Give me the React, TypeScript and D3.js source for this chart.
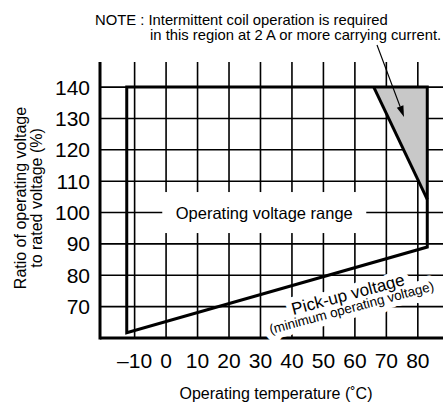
import React from "react";
import * as d3 from "d3";

const W = 448;
const H = 405;
const FONT = "'Liberation Sans', Arial, Helvetica, sans-serif";

// axis values
const xTickValues = [-10, 0, 10, 20, 30, 40, 50, 60, 70, 80];
const yTickValues = [70, 80, 90, 100, 110, 120, 130, 140];
const xDomain = [-21, 88];
const yDomain = [60, 148];

// operating voltage range outline (temperature, % rated voltage)
const rangeTemps = [-12.5, 83, 83, -12.5];
const rangeVolts = [140, 140, 89, 61.7];

// intermittent operation region (shaded)
const limitTemps = [66, 83, 83];
const limitVolts = [140, 140, 104.2];

// texts
const noteLines = [
  "NOTE : Intermittent coil operation is required",
  "in this region at 2 A or more carrying current.",
];
const yTitleLines = ["Ratio of operating voltage", "to rated voltage (%)"];
const xTitle = "Operating temperature (˚C)";
const rangeLabel = "Operating voltage range";
const pickupLines = ["Pick-up voltage", "(minimum operating voltage)"];

// label anchors in data space
const rangeLabelAt = [31.2, 100];
const pickupLabelAt = [58.8, 70.2];
const arrowTipAt = [75.6, 130.5];

export default function App() {
  const x = d3.scaleLinear().domain(xDomain).range([100, 443]);
  const y = d3.scaleLinear().domain(yDomain).range([338, 62]);
  const fmt = (d: number) => (d < 0 ? "–" + Math.abs(d) : String(d));

  const rangePts = rangeTemps.map((t, i) => [x(t), y(rangeVolts[i])] as [number, number]);
  const limitPts = limitTemps.map((t, i) => [x(t), y(limitVolts[i])] as [number, number]);
  const line = d3.line();

  const [x0, x1] = x.range();
  const [y0, y1] = y.range();

  // arrow
  const ax0 = 377, ay0 = 45;
  const ax1 = x(arrowTipAt[0]), ay1 = y(arrowTipAt[1]);
  const ang = Math.atan2(ay1 - ay0, ax1 - ax0);
  const hl = 11, hw = 3.5;
  const bx = ax1 - hl * Math.cos(ang), by = ay1 - hl * Math.sin(ang);
  const head = [
    [ax1, ay1],
    [bx + hw * Math.sin(ang), by - hw * Math.cos(ang)],
    [bx - hw * Math.sin(ang), by + hw * Math.cos(ang)],
  ];

  const rlx = x(rangeLabelAt[0]);
  const rly = y(rangeLabelAt[1]);
  const plx = x(pickupLabelAt[0]);
  const ply = y(pickupLabelAt[1]);

  const pickupText = (halo: boolean) => (
    <g transform={`translate(${plx},${ply}) rotate(-15)`}>
      <text
        x={0}
        y={-6.3}
        textAnchor="middle"
        fontSize={17}
        fill={halo ? "white" : "black"}
        stroke={halo ? "white" : "none"}
        strokeWidth={halo ? 12 : 0}
        strokeLinejoin="round"
      >
        {pickupLines[0]}
      </text>
      <text
        x={0}
        y={6.3}
        textAnchor="middle"
        fontSize={13.4}
        fill={halo ? "white" : "black"}
        stroke={halo ? "white" : "none"}
        strokeWidth={halo ? 12 : 0}
        strokeLinejoin="round"
      >
        {pickupLines[1]}
      </text>
    </g>
  );

  return (
    <svg
      width={W}
      height={H}
      style={{ position: "absolute", left: 0, top: 0, background: "white" }}
      fontFamily={FONT}
    >
      <rect x={0} y={0} width={W} height={H} fill="white" />
      {/* grid */}
      {xTickValues.map((v) => (
        <line key={"gx" + v} x1={x(v)} x2={x(v)} y1={y1} y2={y0} stroke="black" strokeWidth={1.6} />
      ))}
      {yTickValues.map((v) => (
        <line key={"gy" + v} x1={x0} x2={x1} y1={y(v)} y2={y(v)} stroke="black" strokeWidth={1.6} />
      ))}
      {/* axes */}
      <line x1={x0} x2={x0} y1={y1} y2={y0 + 1.5} stroke="black" strokeWidth={3} />
      <line x1={x0} x2={x1} y1={y0} y2={y0} stroke="black" strokeWidth={3} />

      {/* label backgrounds */}
      <rect x={rlx - 102} y={rly - 20.5} width={204} height={41} fill="white" />
      {pickupText(true)}

      {/* shaded region */}
      <path d={line(limitPts as any) + "Z"} fill="#c8c8c8" stroke="none" />
      {/* operating range */}
      <path
        d={line(rangePts as any) + "Z"}
        fill="none"
        stroke="black"
        strokeWidth={3}
        strokeLinejoin="miter"
      />
      <line
        x1={limitPts[0][0]}
        y1={limitPts[0][1]}
        x2={limitPts[2][0]}
        y2={limitPts[2][1]}
        stroke="black"
        strokeWidth={3}
      />

      {/* tick labels */}
      {yTickValues.map((v) => (
        <text key={"ly" + v} x={x0 - 10} y={y(v)} dy="0.36em" textAnchor="end" fontSize={21}>
          {v}
        </text>
      ))}
      {xTickValues.map((v) => (
        <text key={"lx" + v} x={x(v)} y={368} textAnchor="middle" fontSize={21}>
          {fmt(v)}
        </text>
      ))}

      {/* titles */}
      <text x={276} y={399} textAnchor="middle" fontSize={16}>
        {xTitle}
      </text>
      <g transform="translate(0,198) rotate(-90)">
        <text x={0} y={26} textAnchor="middle" fontSize={16}>
          {yTitleLines[0]}
        </text>
        <text x={0} y={42} textAnchor="middle" fontSize={16}>
          {yTitleLines[1]}
        </text>
      </g>

      <text x={rlx} y={rly + 6} textAnchor="middle" fontSize={16.5}>
        {rangeLabel}
      </text>
      {pickupText(false)}

      {/* note */}
      <text x={95} y={24.5} fontSize={14.8}>
        {noteLines[0]}
      </text>
      <text x={150} y={40} fontSize={14.8}>
        {noteLines[1]}
      </text>
      <line x1={ax0} y1={ay0} x2={bx} y2={by} stroke="black" strokeWidth={1.2} />
      <polygon points={head.map((p) => p.join(",")).join(" ")} fill="black" />
    </svg>
  );
}
